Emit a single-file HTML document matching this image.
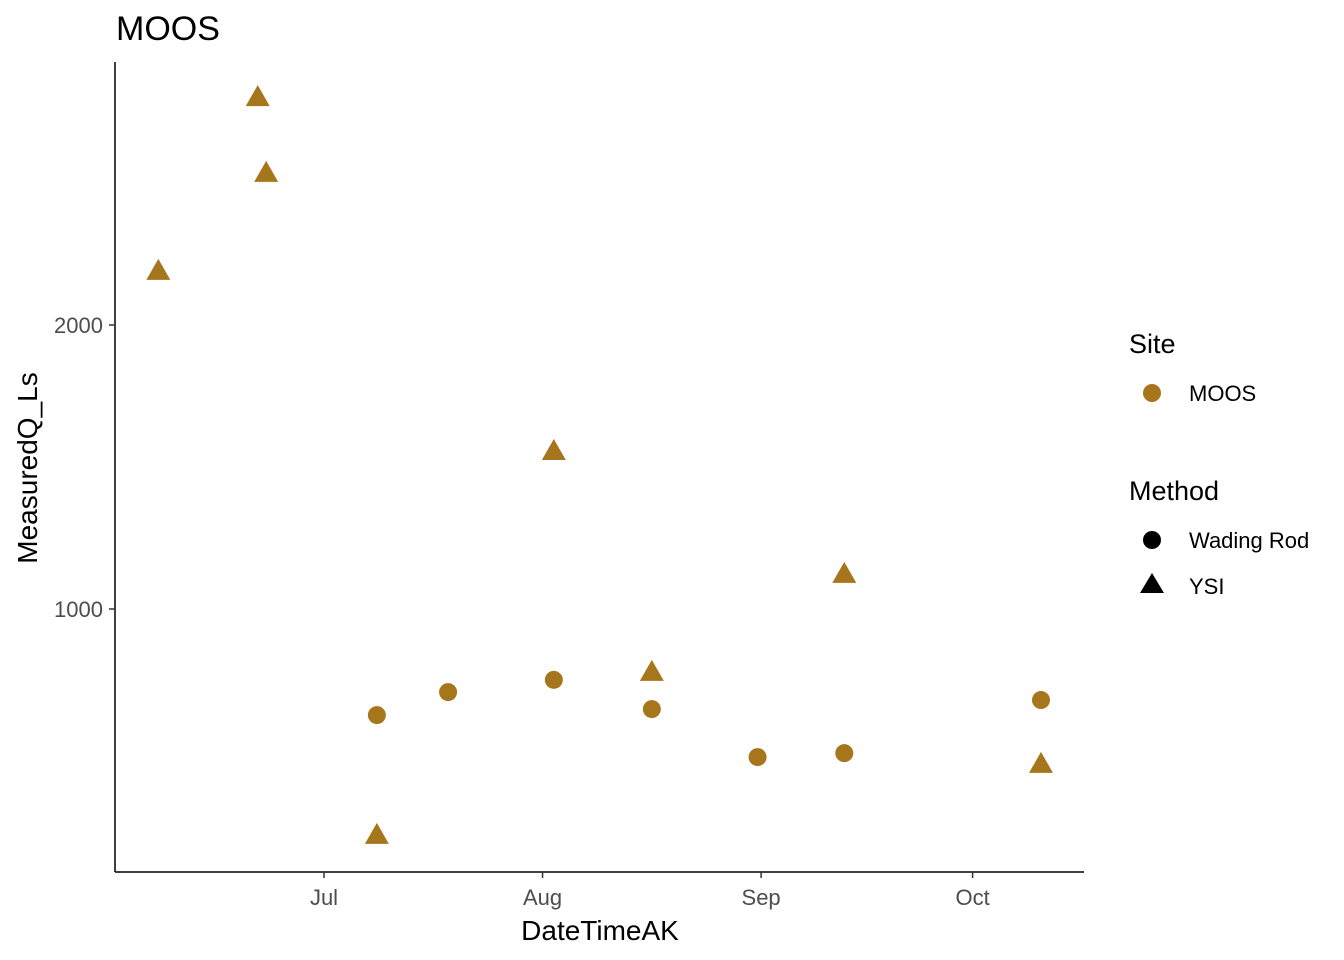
<!DOCTYPE html>
<html><head><meta charset="utf-8"><style>
body{margin:0;background:#fff;}
svg{display:block;font-family:"Liberation Sans",sans-serif;}
</style></head><body>
<svg id="chart" width="1344" height="960">
<text x="116" y="40" font-size="34" fill="#000">MOOS</text>
<line x1="115" y1="62" x2="115" y2="872" stroke="#000" stroke-width="1.5"/>
<line x1="115" y1="872" x2="1084" y2="872" stroke="#000" stroke-width="1.5"/>
<g id="yticks"></g><g id="xticks"></g><g id="marks"></g>
<text x="600" y="940" font-size="28" text-anchor="middle">DateTimeAK</text>
<text transform="translate(37,468) rotate(-90)" font-size="28" text-anchor="middle">MeasuredQ_Ls</text>
<g>
<text x="1129" y="353" font-size="27">Site</text>
<circle cx="1152" cy="393" r="9" fill="#A6761D"/>
<text x="1189" y="401" font-size="22">MOOS</text>
<text x="1129" y="500" font-size="27">Method</text>
<circle cx="1152" cy="540" r="9" fill="#000"/>
<text x="1189" y="548" font-size="22">Wading Rod</text>
<polygon points="1152,573 1164,593 1140,593" fill="#000"/>
<text x="1189" y="594" font-size="22">YSI</text>
</g>
</svg>
<script>
// days since Jul 1
const ysiDays=[-23.5,-9.4,-8.2,7.5,32.6,46.5,73.8,101.7];
const ysiValues=[2194,2806,2539,208,1560,782,1127,458];
const rodDays=[7.5,17.6,32.6,46.5,61.5,73.8,101.7];
const rodValues=[630,711,754,651,482,496,683];
const yTicks=[1000,2000];
const xTickLabels=["Jul","Aug","Sep","Oct"];
const xTickDays=[0,31,62,92];
const NS="http://www.w3.org/2000/svg";
const xs=d=>324+d*7.05;
const ys=v=>326-(v-2000)*0.284;
function mk(t,a,p){const e=document.createElementNS(NS,t);for(const k in a)e.setAttribute(k,a[k]);document.getElementById(p).appendChild(e);return e;}
yTicks.forEach(v=>{
 const y=ys(v)-1;
 const l=mk("line",{x1:109,x2:115,y1:y,y2:y,stroke:"#333","stroke-width":1.5},"yticks");
 
 
 const t=mk("text",{x:103,y:y+8,"font-size":22,"text-anchor":"end",fill:"#4d4d4d"},"yticks");
 t.textContent=v;
 
 
});
xTickDays.forEach((d,i)=>{
 const l=mk("line",{x1:xs(d),x2:xs(d),y1:872,y2:878,stroke:"#333","stroke-width":1.5},"xticks");
 
 
 const t=mk("text",{x:xs(d),y:905,"font-size":22,"text-anchor":"middle",fill:"#4d4d4d"},"xticks");
 t.textContent=xTickLabels[i];
 
 
});
rodDays.forEach((d,i)=>{
 const c=mk("circle",{cx:xs(d),cy:ys(rodValues[i]),r:9,fill:"#A6761D"},"marks");
 
 
});
ysiDays.forEach((d,i)=>{
 const x=xs(d),y=ys(ysiValues[i]);
 const p=mk("polygon",{points:`${x},${y-12} ${x+12},${y+9} ${x-12},${y+9}`,fill:"#A6761D"},"marks");
 
 
});
</script>
</body></html>
